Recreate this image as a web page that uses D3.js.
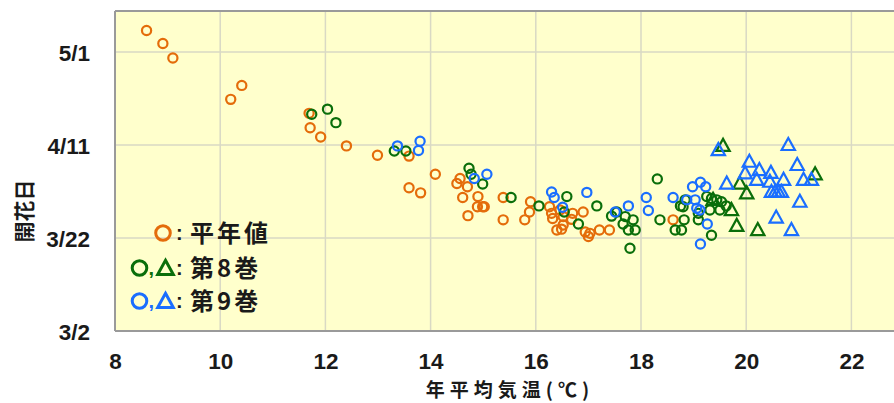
<!DOCTYPE html>
<html>
<head>
<meta charset="utf-8">
<script src="https://cdn.jsdelivr.net/npm/d3@7/dist/d3.min.js"></script>
<style>
  html, body { margin: 0; padding: 0; background: #ffffff; }
  svg { display: block; }
  .tick-label { font-family: "Liberation Sans", Arial, sans-serif; font-weight: bold; font-size: 22.5px; fill: #1a1a1a; }
  .jp { font-family: "Noto Sans CJK JP", sans-serif; font-weight: bold; fill: #1a1a1a; }
</style>
</head>
<body>
<svg id="chart" width="894" height="403"></svg>
<script>
// Flowering date vs. annual mean temperature.
// Dates are stored as days after March 2.

// 平年値 (normal values): [annual mean temperature °C, days after 3/2]
const normalPoints = [
  [8.60, 64.6], [8.91, 61.8], [9.10, 58.7], [10.41, 52.8], [10.20, 49.8],
  [11.69, 46.8], [11.71, 43.7], [11.91, 41.7], [12.40, 39.8], [12.99, 37.8],
  [13.59, 37.6], [14.09, 33.7], [13.59, 30.8], [13.81, 29.7], [14.50, 31.7],
  [14.56, 32.8], [14.70, 31.0], [14.61, 28.7], [14.90, 28.9], [14.89, 26.7],
  [14.99, 26.7], [15.02, 26.7], [14.71, 24.8], [15.38, 28.7], [15.38, 23.9],
  [15.90, 27.8], [15.88, 25.6], [15.79, 23.9], [16.26, 26.7], [16.30, 25.3],
  [16.32, 24.2], [16.40, 21.7], [16.49, 21.9], [16.52, 22.8], [16.70, 25.3],
  [16.90, 25.6], [16.68, 24.0], [16.94, 21.3], [17.00, 20.3], [17.03, 21.0],
  [17.21, 21.7], [17.40, 21.7], [18.61, 23.9], [16.46, 26.0], [16.52, 24.6]
];

// 第8巻 circles
const vol8Circles = [
  [11.74, 46.6], [12.04, 47.7], [12.20, 44.8], [13.31, 38.7], [13.53, 38.7],
  [14.73, 35.0], [14.77, 33.7], [14.99, 31.6], [15.53, 28.7], [16.06, 26.9],
  [16.59, 28.9], [16.54, 25.6], [16.81, 23.0], [17.16, 26.9], [17.54, 25.6],
  [17.44, 24.7], [17.70, 24.6], [17.66, 23.0], [17.76, 21.7], [17.85, 23.9],
  [17.89, 21.7], [17.79, 17.8], [18.31, 32.7], [18.36, 23.9], [18.65, 21.7],
  [18.77, 21.7], [18.82, 23.9], [18.75, 26.9], [18.84, 28.2], [18.80, 26.7],
  [19.09, 23.9], [19.09, 25.3], [19.25, 28.9], [19.34, 28.5], [19.44, 28.2],
  [19.53, 27.8], [19.31, 26.0], [19.50, 26.0], [19.34, 20.6], [19.62, 26.9]
];

// 第8巻 triangles
const vol8Triangles = [
  [19.56, 39.8], [19.37, 28.2], [19.72, 26.0], [19.82, 22.6], [20.22, 21.7],
  [19.88, 31.7], [20.01, 29.6], [21.31, 33.7]
];

// 第9巻 circles
const vol9Circles = [
  [13.37, 39.8], [13.80, 40.8], [13.77, 38.8], [14.83, 32.8], [15.07, 33.7],
  [16.30, 29.9], [16.35, 28.7], [16.51, 26.6], [16.97, 29.8], [17.51, 25.6],
  [17.76, 26.9], [18.10, 28.7], [18.14, 25.9], [18.61, 28.7], [18.87, 28.2],
  [18.98, 31.0], [19.13, 32.0], [19.23, 31.0], [19.03, 28.2], [19.06, 26.4],
  [19.26, 23.0], [19.13, 18.7], [19.12, 26.0]
];

// 第9巻 triangles
const vol9Triangles = [
  [19.47, 38.9], [19.63, 31.7], [20.06, 36.4], [19.98, 33.9], [20.25, 34.6],
  [20.20, 32.5], [20.47, 34.0], [20.45, 32.1], [20.71, 32.5], [20.80, 40.0],
  [20.97, 35.7], [21.09, 32.5], [21.24, 32.5], [20.48, 29.9], [20.55, 29.9],
  [20.61, 29.9], [20.67, 29.9], [21.02, 27.8], [20.57, 24.4], [20.86, 21.7]
];

const xTicks = [8, 10, 12, 14, 16, 18, 20, 22];
const yTickValues = [0, 20, 40, 60];
const yTickLabels = ["3/2", "3/22", "4/11", "5/1"];

const legendRows = [
  { marks: ["circle"], color: "#E46C0A", label: "平年値" },
  { marks: ["circle", "triangle"], color: "#0A6E0A", label: "第8巻" },
  { marks: ["circle", "triangle"], color: "#1A6EFF", label: "第9巻" }
];

const COLORS = { normal: "#E46C0A", vol8: "#0A6E0A", vol9: "#1A6EFF" };

const svg = d3.select("#chart");
const plot = { left: 115, top: 11, bottom: 331 };

const x = d3.scaleLinear().domain([8, 24]).range([plot.left, plot.left + 16 * 52.6]);
const y = d3.scaleLinear().domain([0, 68.8]).range([plot.bottom, plot.top]);

// plot background
svg.append("rect")
  .attr("x", plot.left).attr("y", plot.top)
  .attr("width", x(24) - plot.left).attr("height", plot.bottom - plot.top)
  .attr("fill", "#FFFFCC");

// grid
const grid = svg.append("g").attr("stroke", "#D9D9C4").attr("stroke-width", 1.5);
grid.selectAll("line.v").data(xTicks.slice(1).concat([24])).join("line")
  .attr("x1", d => x(d)).attr("x2", d => x(d))
  .attr("y1", plot.top).attr("y2", plot.bottom);
grid.selectAll("line.h").data(yTickValues.slice(1)).join("line")
  .attr("x1", plot.left).attr("x2", x(24))
  .attr("y1", d => y(d)).attr("y2", d => y(d));

// frame
const frame = svg.append("g").attr("stroke", "#9A9A9A").attr("stroke-width", 2).attr("fill", "none");
frame.append("line").attr("x1", plot.left).attr("x2", x(24)).attr("y1", plot.top).attr("y2", plot.top);
frame.append("line").attr("x1", plot.left).attr("x2", x(24)).attr("y1", plot.bottom).attr("y2", plot.bottom);
frame.append("line").attr("x1", plot.left).attr("x2", plot.left).attr("y1", plot.top).attr("y2", plot.bottom);

// axes (labels only)
const xAxis = d3.axisBottom(x).tickValues(xTicks).tickSize(0).tickPadding(0).tickFormat(d3.format("d"));
svg.append("g").attr("transform", `translate(0,${plot.bottom})`).call(xAxis)
  .call(g => g.select(".domain").remove())
  .selectAll("text").attr("class", "tick-label").attr("dy", null).attr("y", 38);

const yAxis = d3.axisLeft(y).tickValues(yTickValues).tickSize(0).tickPadding(0)
  .tickFormat((d, i) => yTickLabels[i]);
svg.append("g").attr("transform", "translate(90,0)").call(yAxis)
  .call(g => g.select(".domain").remove())
  .selectAll("text").attr("class", "tick-label").attr("dy", "0.36em");
svg.selectAll(".tick text").attr("fill", "#1a1a1a");

// axis titles
svg.append("text").attr("class", "jp")
  .attr("x", 510).attr("y", 397).attr("text-anchor", "middle")
  .style("font-size", "19px").style("letter-spacing", "5px")
  .text("年平均気温(℃)");
svg.append("text").attr("class", "jp")
  .attr("transform", "translate(32,211) rotate(-90)").attr("text-anchor", "middle")
  .style("font-size", "21px")
  .text("開花日");

// markers
const triPath = (s) => `M0,${-s}L${s * 0.95},${s * 0.72}L${-s * 0.95},${s * 0.72}Z`;

function drawCircles(data, color) {
  svg.append("g").selectAll("circle").data(data).join("circle")
    .attr("cx", d => x(d[0])).attr("cy", d => y(d[1])).attr("r", 4.6)
    .attr("fill", "none").attr("stroke", color).attr("stroke-width", 2.2);
}
function drawTriangles(data, color) {
  svg.append("g").selectAll("path").data(data).join("path")
    .attr("d", triPath(7))
    .attr("transform", d => `translate(${x(d[0])},${y(d[1])})`)
    .attr("fill", "none").attr("stroke", color).attr("stroke-width", 2.2)
    .attr("stroke-linejoin", "miter");
}

drawCircles(normalPoints, COLORS.normal);
drawCircles(vol8Circles, COLORS.vol8);
drawTriangles(vol8Triangles, COLORS.vol8);
drawCircles(vol9Circles, COLORS.vol9);
drawTriangles(vol9Triangles, COLORS.vol9);

// legend
const rowY = [233, 268, 301];
legendRows.forEach((row, i) => {
  const g = svg.append("g").attr("transform", `translate(0,${rowY[i]})`);
  if (row.marks.length === 1) {
    g.append("circle").attr("cx", 163).attr("cy", 0).attr("r", 7.3)
      .attr("fill", "none").attr("stroke", row.color).attr("stroke-width", 3);
  } else {
    g.append("circle").attr("cx", 139.5).attr("cy", 0).attr("r", 7.3)
      .attr("fill", "none").attr("stroke", row.color).attr("stroke-width", 3);
    g.append("text").attr("x", 148.5).attr("y", 7).attr("class", "tick-label")
      .style("fill", row.color).style("font-size", "20px").text(",");
    g.append("path").attr("d", triPath(8.2)).attr("transform", "translate(165.5,0.5)")
      .attr("fill", "none").attr("stroke", row.color).attr("stroke-width", 3);
  }
  g.append("text").attr("x", 176).attr("y", 7).attr("class", "tick-label")
    .style("font-size", "20px").text(":");
  g.append("text").attr("x", 190).attr("y", 9).attr("class", "jp")
    .style("font-size", "24px").style("letter-spacing", "3px").text(row.label);
});
</script>
</body>
</html>
